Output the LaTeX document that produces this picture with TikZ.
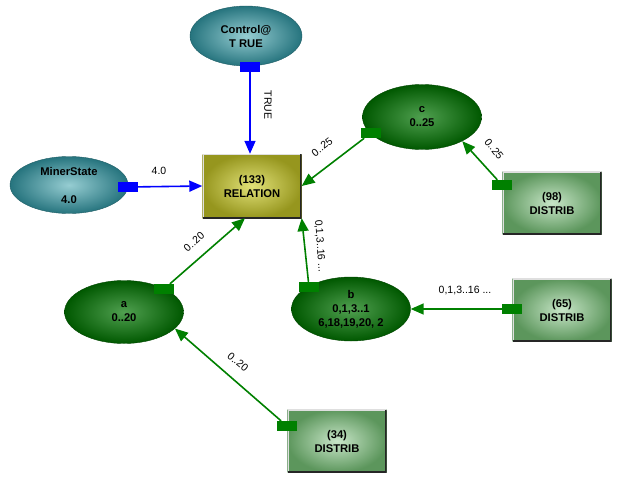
\documentclass[tikz,border=0pt]{standalone}
\usepackage{fontspec}
\setmainfont{Liberation Sans}
\definecolor{tealdark}{RGB}{38,116,126}
\definecolor{teallight}{RGB}{150,205,210}
\definecolor{greendark}{RGB}{0,88,0}
\definecolor{greenlight}{RGB}{80,160,80}
\definecolor{sagedark}{RGB}{92,150,92}
\definecolor{sagelight}{RGB}{200,230,200}
\definecolor{olivedark}{RGB}{150,150,30}
\definecolor{olivelight}{RGB}{225,225,120}
\definecolor{linkgreen}{RGB}{0,128,0}
\definecolor{linkblue}{RGB}{0,0,255}
\usetikzlibrary{arrows.meta, shapes.geometric, calc}

\begin{document}
\begin{tikzpicture}[x=1pt, y=-1pt,
    nodetext/.style={font=\bfseries\fontsize{11.2}{14}\selectfont, align=center, inner sep=0pt},
    stateball/.style={nodetext, ellipse, draw=tealdark!80!black, shading=radial,
        inner color=teallight, outer color=tealdark, minimum width=118pt, minimum height=60pt},
    chanceball/.style={nodetext, ellipse, draw=greendark!80!black, shading=radial,
        inner color=greenlight, outer color=greendark, minimum width=119pt, minimum height=63pt},
    bevel/.style={path picture={
        \draw[white!75!gray, line width=2.5pt] (path picture bounding box.south west) |- (path picture bounding box.north east);
        \draw[black!85, line width=2.5pt] (path picture bounding box.north east) |- (path picture bounding box.south west);}},
    distbox/.style={nodetext, rectangle, bevel, shading=radial, inner color=sagelight,
        outer color=sagedark, minimum width=99pt, minimum height=63pt},
    relbox/.style={nodetext, rectangle, bevel, shading=radial, inner color=olivelight,
        outer color=olivedark, minimum width=99pt, minimum height=64pt},
    port/.style={rectangle, fill=#1, minimum width=20pt, minimum height=10pt, inner sep=0pt},
    link/.style={line width=1.6pt, -{Triangle[length=13pt,width=11pt]}},
    lbl/.style={font=\fontsize{10.5}{12}\selectfont, inner sep=0.5pt}]

    \useasboundingbox (0,0) rectangle (620,476);

    % nodes
    \node[stateball, minimum width=112pt] (ctl) at (246,36) {Control@\\T RUE};
    \node[stateball, minimum height=57pt] (miner) at (69,185) {MinerState\\[14pt]4.0};
    \node[relbox] (rel) at (252,186) {(133)\\RELATION};
    \node[chanceball, minimum height=65pt] (c) at (422,117) {c\\0..25};
    \node[distbox] (d98) at (552,203) {(98)\\DISTRIB};
    \node[chanceball, minimum height=64pt] (b) at (351,309) {b\\0,1,3..1\\6,18,19,20, 2};
    \node[distbox] (d65) at (562,310) {(65)\\DISTRIB};
    \node[chanceball] (a) at (124,312) {a\\0..20};
    \node[distbox] (d34) at (337,441) {(34)\\DISTRIB};

    % ports
    \node[port=linkblue] (ctlp) at (250,67) {};
    \node[port=linkblue] (minerp) at (128,187) {};
    \node[port=linkgreen] (cp) at (371,133) {};
    \node[port=linkgreen] (d98p) at (502,185) {};
    \node[port=linkgreen] (bp) at (309,287) {};
    \node[port=linkgreen] (d65p) at (512,309) {};
    \node[port=linkgreen] (ap) at (164,289) {};
    \node[port=linkgreen] (d34p) at (287,426) {};

    % links
    \draw[link, linkblue] (ctlp) -- (ctlp |- rel.north);
    \draw[link, linkblue] (minerp) -- (rel.west);
    \draw[link, linkgreen] (cp) -- (rel.east);
    \draw[link, linkgreen] (d98p) -- (c.-31);
    \draw[link, linkgreen] (bp) -- (rel.south east);
    \draw[link, linkgreen] (d65p) -- (b.east);
    \draw[link, linkgreen] (ap) -- ([xshift=-7pt]rel.south);
    \draw[link, linkgreen] (d34p) -- (a.-18);

    % link labels
    \node[lbl, rotate=-90] (ltrue) at (268,105) {TRUE};
    \node[lbl] (lminer) at (159,171) {4.0};
    \node[lbl, rotate=38] (lcrel) at (322,147) {0..25};
    \node[lbl, rotate=-52] (ldc) at (494,149) {0..25};
    \node[lbl, rotate=-86] (lbrel) at (320,246) {0,1,3..16 ...};
    \node[lbl] (ldb) at (465,291) {0,1,3..16 ...};
    \node[lbl, rotate=42] (larel) at (194,242) {0..20};
    \node[lbl, rotate=-40] (lda) at (238,362) {0..20};
\end{tikzpicture}
\end{document}
